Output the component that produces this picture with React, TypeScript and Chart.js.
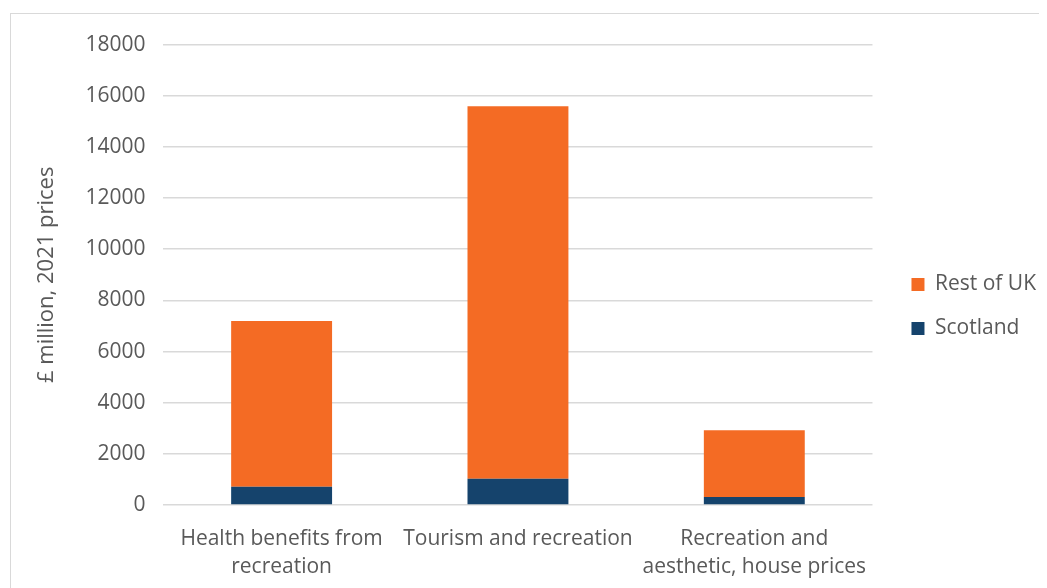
import React, { useEffect, useRef } from "react";
import { Chart, registerables, layouts } from "chart.js";

Chart.register(...registerables);

const categories: string[][] = [
  ["Health benefits from", "recreation"],
  ["Tourism and recreation"],
  ["Recreation and", "aesthetic, house prices"],
];
const scotland: number[] = [715, 1030, 310];
const restOfUK: number[] = [6475, 14560, 2610];
const yTicks: number[] = [0, 2000, 4000, 6000, 8000, 10000, 12000, 14000, 16000, 18000];

const FONT = "'Open Sans', 'Liberation Sans', sans-serif";
const TEXT = "#595959";

const legendSpacer = {
  id: "legendSpacer",
  beforeInit(chart: any) {
    const box: any = {
      position: "right",
      weight: 0,
      fullSize: false,
      options: {},
      width: 0,
      height: 0,
      top: 0,
      left: 0,
      right: 0,
      bottom: 0,
      isHorizontal: () => false,
      update(_w: number, h: number) {
        box.width = 16;
        box.height = h;
      },
      draw() {},
    };
    layouts.addBox(chart, box);
  },
};

export default function App() {
  const ref = useRef<HTMLCanvasElement | null>(null);
  useEffect(() => {
    document.body.style.overflow = "hidden";
    const chart = new Chart(ref.current!, {
      type: "bar",
      data: {
        labels: categories,
        datasets: [
          {
            label: "Scotland",
            data: scotland,
            backgroundColor: "#15436C",
            borderWidth: 0,
          },
          {
            label: "Rest of UK",
            data: restOfUK,
            backgroundColor: "#F46B24",
            borderWidth: 0,
          },
        ],
      },
      plugins: [legendSpacer],
      options: {
        animation: false,
        responsive: false,
        maintainAspectRatio: false,
        layout: { padding: { left: 23, right: 14, top: 12, bottom: 11 } },
        datasets: { bar: { categoryPercentage: 1, barPercentage: 0.427 } },
        plugins: {
          legend: {
            position: "right",
            align: "start",
            reverse: true,
            title: {
              display: true,
              text: " ",
              font: { size: 10, lineHeight: 1.2 },
              padding: { top: 213, bottom: 0 },
            },
            labels: {
              boxWidth: 13,
              boxHeight: 13,
              padding: 23,
              color: TEXT,
              font: { family: FONT, size: 21 },
            },
          },
          tooltip: { enabled: false },
        },
        scales: {
          x: {
            stacked: true,
            grid: { display: false },
            border: { display: false },
            ticks: {
              color: TEXT,
              font: { family: FONT, size: 21, lineHeight: 1.333 },
              maxRotation: 0,
              autoSkip: false,
              padding: 12,
            },
          },
          y: {
            stacked: true,
            min: 0,
            max: 18000,
            afterBuildTicks: (axis: any) => {
              axis.ticks = yTicks.map((v) => ({ value: v }));
            },
            grid: { color: "#d9d9d9", lineWidth: 1.5, drawTicks: false },
            border: { display: false },
            ticks: {
              color: TEXT,
              font: { family: FONT, size: 21 },
              padding: 18,
              callback: (v: any) => String(v),
            },
            title: {
              display: true,
              text: "£ million, 2021 prices",
              color: TEXT,
              font: { family: FONT, size: 22 },
              padding: { top: 0, bottom: 7 },
            },
          },
        },
      },
    });
    return () => chart.destroy();
  }, []);
  return (
    <div
      style={{
        marginLeft: 2,
        marginTop: 5,
        width: 1051,
        height: 600,
        border: "1px solid #d9d9d9",
        boxSizing: "border-box",
        background: "#fff",
      }}
    >
      <canvas ref={ref} width={1049} height={590} style={{ display: "block" }} />
    </div>
  );
}
